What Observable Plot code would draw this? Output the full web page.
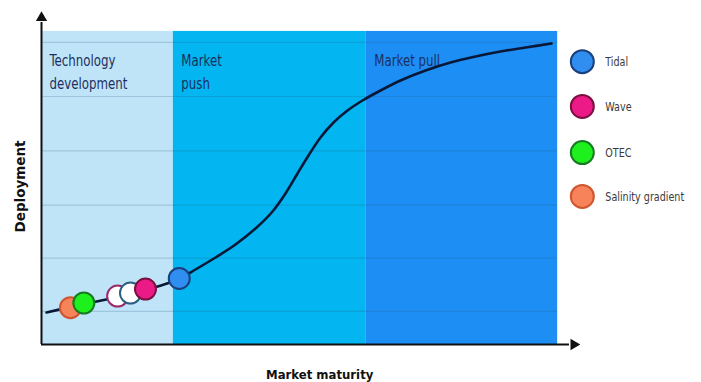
<!DOCTYPE html>
<html>
<head>
<meta charset="utf-8">
<script src="https://cdn.jsdelivr.net/npm/d3@7"></script>
<script src="https://cdn.jsdelivr.net/npm/@observablehq/plot@0.6"></script>
<style>
  html, body { margin: 0; padding: 0; background: #fff; }
  #chart svg { display: block; }
</style>
</head>
<body>
<div id="chart"></div>
<script>
// ---- Data (abstract units: x = market maturity 0..100, y = deployment 0..100)
const phaseNames = ["Technology\ndevelopment", "Market\npush", "Market pull"];
const phaseStart = [0, 24.6, 60.6];
const phaseEnd = [24.6, 60.6, 96.3];
const phaseTop = 94.3;
const phaseColors = ["#bfe4f8", "#03b5f0", "#1d8ff4"];

const gridY = [10, 26, 42, 58.3, 74.7, 91];

// S-curve
const curveX = [0.93, 5.41, 8.02, 14.37, 16.79, 19.40, 22.57, 25.75, 28.73, 32.46, 36.19, 39.93, 43.10, 45.52, 47.76, 49.81, 52.05, 54.48, 57.09, 59.89, 63.25, 66.98, 71.64, 76.31, 80.97, 85.63, 90.30, 95.15];
const curveY = [9.64, 11.30, 12.20, 14.31, 15.21, 16.42, 17.92, 19.88, 22.59, 26.20, 30.12, 34.94, 40.06, 45.48, 51.51, 56.93, 62.35, 66.87, 70.48, 73.49, 76.51, 79.52, 82.53, 84.94, 86.75, 88.25, 89.46, 90.66];

// Technology markers on the curve
const markerNames = ["Salinity gradient", "OTEC", "Wave (earlier)", "Tidal (earlier)", "Wave", "Tidal"];
const markerX = [5.4, 7.9, 14.2, 16.6, 19.4, 25.7];
const markerY = [11.1, 12.5, 14.6, 15.5, 16.7, 19.9];
const markerFill = ["#f7835a", "#1ef01e", "#ffffff", "#ffffff", "#ec1a86", "#2f8ef0"];
const markerStroke = ["#d0552e", "#177a22", "#9a2a6a", "#2d5f80", "#7a1040", "#1a3f7a"];

// Legend
const legendNames = ["Tidal", "Wave", "OTEC", "Salinity gradient"];
const legendY = [85.2, 71.7, 57.8, 44.6];
const legendFill = ["#2f8ef0", "#ec1a86", "#1ef01e", "#f7835a"];
const legendStroke = ["#1a3f7a", "#7a1040", "#177a22", "#d0552e"];

const xTitle = "Market maturity";
const yTitle = "Deployment";

const narrow = "'Liberation Sans Narrow', 'DejaVu Sans Condensed', sans-serif";

const phaseIdx = d3.range(phaseNames.length);
const curve = curveX.map((x, i) => ({x, y: curveY[i]}));
const markers = markerNames.map((n, i) => ({n, x: markerX[i], y: markerY[i], fill: markerFill[i], stroke: markerStroke[i]}));
const legend = legendNames.map((n, i) => ({n, y: legendY[i], fill: legendFill[i], stroke: legendStroke[i]}));
const legendX = 100.9;

const chart = Plot.plot({
  width: 701,
  height: 382,
  marginLeft: 41,
  marginRight: 124,
  marginTop: 12,
  marginBottom: 38,
  x: {domain: [0, 100], axis: null},
  y: {domain: [0, 100], axis: null},
  color: {type: "identity"},
  style: {background: "#fff", overflow: "visible"},
  marks: [
    Plot.rect(phaseIdx, {x1: i => phaseStart[i], x2: i => phaseEnd[i], y1: 0, y2: phaseTop, fill: i => phaseColors[i]}),
    Plot.ruleY(gridY, {x1: 0, x2: phaseEnd[2], stroke: "#2a5a85", strokeOpacity: 0.22, strokeWidth: 1.2}),
    Plot.text(phaseIdx, {
      x: i => phaseStart[i], y: phaseTop, text: i => phaseNames[i],
      textAnchor: "start", lineAnchor: "top", dx: 8, dy: 18, lineHeight: 1.45,
      fontSize: 16, fontFamily: narrow, fill: "#1c2f5e"
    }),
    Plot.line(curve, {x: "x", y: "y", curve: "catmull-rom", stroke: "#0a1838", strokeWidth: 2.6}),
    Plot.dot(markers, {x: "x", y: "y", r: 10.5, fill: "fill", stroke: "stroke", strokeWidth: 2}),
    // axes with arrows
    Plot.ruleX([0], {y1: 0, y2: 97, stroke: "#111", strokeWidth: 2}),
    Plot.ruleY([0], {x1: 0, x2: 98.5, stroke: "#111", strokeWidth: 2}),
    Plot.dot([0], {x: 0, y: 98.4, symbol: "triangle", r: 4.2, fill: "#111", stroke: null}),
    Plot.dot([0], {x: 99.3, y: 0, symbol: "triangle", r: 4.2, rotate: 90, fill: "#111", stroke: null}),
    // axis titles
    Plot.text([xTitle], {x: 51.9, y: 0, text: d => d, dy: 30, fontSize: 13, fontWeight: "bold",
      fontFamily: "'DejaVu Sans Condensed', 'DejaVu Sans', sans-serif", fill: "#111"}),
    Plot.text([yTitle], {x: 0, y: 47.6, text: d => d, dx: -21, rotate: -90, fontSize: 13.5, fontWeight: "bold",
      fontFamily: "'DejaVu Sans', sans-serif", fill: "#111"}),
    // legend
    Plot.dot(legend, {x: legendX, y: "y", r: 11.5, fill: "fill", stroke: "stroke", strokeWidth: 2}),
    Plot.text(legend, {x: legendX, y: "y", text: "n", dx: 23, textAnchor: "start", fontSize: 13,
      fontFamily: narrow, fill: "#3a3a3a"})
  ]
});

// Narrow the condensed labels horizontally (the reference uses a narrow face)
d3.select(chart).selectAll("g[font-family*='Narrow'] text").each(function() {
  const t = d3.select(this);
  const tr = t.attr("transform");
  if (tr) {
    t.attr("transform", tr + " scale(0.82,1)");
  } else {
    const x = +t.attr("x") || 0, y = +t.attr("y") || 0;
    t.attr("x", null).attr("y", null).attr("transform", `translate(${x},${y}) scale(0.82,1)`);
  }
});

document.getElementById("chart").appendChild(chart);
</script>
</body>
</html>
